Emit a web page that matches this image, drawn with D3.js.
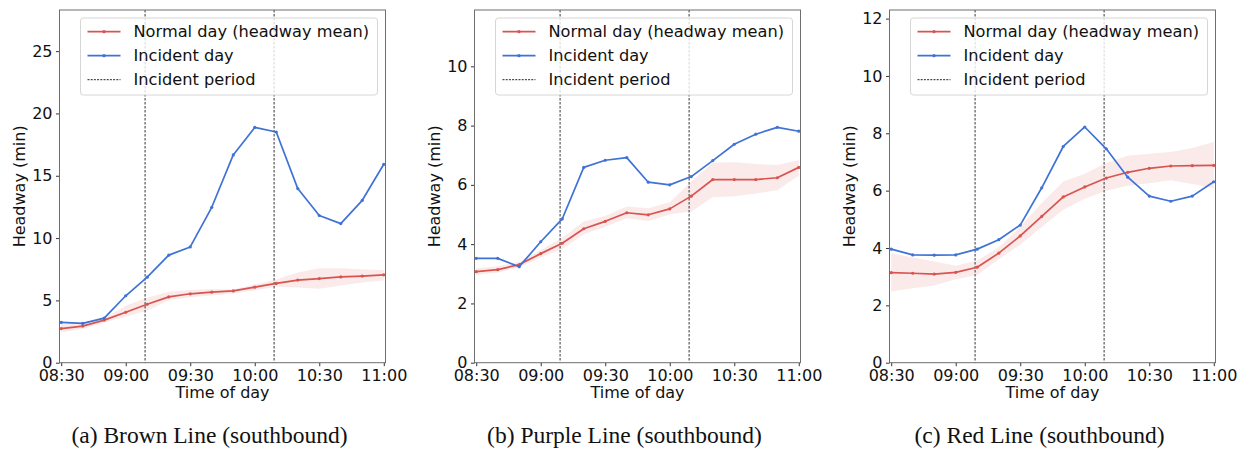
<!DOCTYPE html>
<html>
<head>
<meta charset="utf-8">
<script src="https://cdn.jsdelivr.net/npm/d3@7"></script>
<style>
  body { margin: 0; background: #fff; }
  svg { display: block; font-family: "DejaVu Sans", sans-serif; }
</style>
</head>
<body>
<svg width="1244" height="450"></svg>
<script>
//-- data -- //
const times = ["08:30", "08:40", "08:50", "09:00", "09:10", "09:20", "09:30", "09:40",
               "09:50", "10:00", "10:10", "10:20", "10:30", "10:40", "10:50", "11:00"];
const tickTimes = ["08:30", "09:00", "09:30", "10:00", "10:30", "11:00"];
const incidentPeriod = ["09:09", "10:09"];

const brownNormal   = [2.74, 2.94, 3.42, 4.05, 4.69, 5.28, 5.53, 5.66, 5.76, 6.06, 6.36, 6.63, 6.75, 6.88, 6.95, 7.05];
const brownLower    = [2.44, 2.70, 3.22, 3.69, 4.17, 5.02, 5.26, 5.39, 5.55, 5.82, 6.09, 6.04, 5.93, 6.20, 6.44, 6.60];
const brownUpper    = [3.08, 3.20, 3.56, 4.57, 5.21, 5.69, 5.84, 5.92, 5.88, 6.28, 6.68, 7.24, 7.58, 7.58, 7.50, 7.42];
const brownIncident = [3.23, 3.15, 3.58, 5.37, 6.86, 8.63, 9.29, 12.47, 16.67, 18.88, 18.51, 13.97, 11.81, 11.16, 13.03, 15.92];

const purpleNormal   = [3.07, 3.14, 3.31, 3.68, 4.03, 4.52, 4.77, 5.06, 4.99, 5.19, 5.62, 6.18, 6.18, 6.18, 6.24, 6.59];
const purpleLower    = [2.96, 3.04, 3.22, 3.55, 3.84, 4.33, 4.59, 4.87, 4.78, 5.01, 5.10, 5.58, 5.62, 5.71, 5.82, 6.32];
const purpleUpper    = [3.19, 3.25, 3.41, 3.80, 4.22, 4.76, 4.95, 5.27, 5.21, 5.41, 6.11, 6.75, 6.76, 6.70, 6.67, 6.83];
const purpleIncident = [3.52, 3.52, 3.24, 4.08, 4.85, 6.59, 6.83, 6.92, 6.09, 6.00, 6.28, 6.82, 7.37, 7.71, 7.94, 7.81];

const redNormal   = [3.14, 3.12, 3.09, 3.15, 3.33, 3.82, 4.42, 5.10, 5.78, 6.13, 6.44, 6.64, 6.78, 6.86, 6.87, 6.88];
const redLower    = [2.48, 2.60, 2.69, 2.91, 3.06, 3.61, 4.11, 4.73, 5.33, 5.72, 6.00, 6.17, 6.26, 6.36, 6.23, 6.08];
const redUpper    = [3.82, 3.67, 3.53, 3.38, 3.56, 4.03, 4.73, 5.57, 6.32, 6.59, 6.96, 7.22, 7.29, 7.35, 7.49, 7.70];
const redIncident = [3.96, 3.76, 3.75, 3.76, 3.96, 4.29, 4.80, 6.10, 7.54, 8.22, 7.46, 6.47, 5.81, 5.63, 5.81, 6.31];

const captions = ["(a) Brown Line (southbound)", "(b) Purple Line (southbound)", "(c) Red Line (southbound)"];
const yMaxes = [28.3, 11.9, 12.3];
const yTickSteps = [5, 2, 2];
const legendLabels = ["Normal day (headway mean)", "Incident day", "Incident period"];

const panels = [
    {normal: brownNormal, lower: brownLower, upper: brownUpper, incident: brownIncident},
    {normal: purpleNormal, lower: purpleLower, upper: purpleUpper, incident: purpleIncident},
    {normal: redNormal, lower: redLower, upper: redUpper, incident: redIncident}
].map((p, i) => ({...p, caption: captions[i], yMax: yMaxes[i], step: yTickSteps[i]}));

//-- minutes after 08:30 --//
const toMin = s => { const [h, m] = s.split(":").map(Number); return h * 60 + m - 510; };

const redColor = "#d9534f";
const blueColor = "#3f72d6";

const margin = {top: 10, left: 59.5};
const plotW = 326;
const plotH = 352.7;
const panelGap = 415;

const svg = d3.select("svg");

panels.forEach((p, i) => {
    const g = svg.append("g")
        .attr("transform", `translate(${margin.left + i * panelGap},${margin.top})`);

    const x = d3.scaleLinear().domain([-0.8, 150.8]).range([0, plotW]);
    const y = d3.scaleLinear().domain([0, p.yMax]).range([plotH, 0]);

    //-- band --//
    const rows = times.map((t, k) => ({t: toMin(t), mean: p.normal[k], lo: p.lower[k], hi: p.upper[k], inc: p.incident[k]}));

    g.append("path")
        .datum(rows)
        .attr("fill", redColor)
        .attr("fill-opacity", 0.12)
        .attr("d", d3.area().x(d => x(d.t)).y0(d => y(d.lo)).y1(d => y(d.hi)));

    //-- incident period --//
    g.selectAll(".vline")
        .data(incidentPeriod)
        .join("line")
        .attr("x1", d => x(toMin(d)))
        .attr("x2", d => x(toMin(d)))
        .attr("y1", 0)
        .attr("y2", plotH)
        .attr("stroke", "#333")
        .attr("stroke-opacity", 0.9)
        .attr("stroke-width", 1.1)
        .attr("stroke-dasharray", "2.5,1.5");

    //-- lines --//
    const series = [
        {key: "mean", color: redColor},
        {key: "inc", color: blueColor}
    ];
    series.forEach(s => {
        g.append("path")
            .datum(rows)
            .attr("fill", "none")
            .attr("stroke", s.color)
            .attr("stroke-width", 1.7)
            .attr("stroke-linejoin", "round")
            .attr("d", d3.line().x(d => x(d.t)).y(d => y(d[s.key])));
        g.append("g")
            .selectAll("circle")
            .data(rows)
            .join("circle")
            .attr("cx", d => x(d.t))
            .attr("cy", d => y(d[s.key]))
            .attr("r", 1.6)
            .attr("fill", s.color);
    });

    //-- axes --//
    g.append("g")
        .attr("transform", `translate(0,${plotH})`)
        .call(d3.axisBottom(x).tickValues(tickTimes.map(toMin)).tickFormat((d, k) => tickTimes[k]).tickSize(3.5).tickPadding(3.5))
        .call(g => g.select(".domain").remove())
        .call(g => g.selectAll("text").attr("font-size", 16).attr("font-family", "DejaVu Sans").attr("fill", "#111"))
        .call(g => g.selectAll("line").attr("stroke", "#333"));

    g.append("g")
        .call(d3.axisLeft(y).tickValues(d3.range(0, p.yMax, p.step)).tickFormat(d3.format("d")).tickSize(3.5).tickPadding(3.5))
        .call(g => g.select(".domain").remove())
        .call(g => g.selectAll("text").attr("font-size", 16).attr("font-family", "DejaVu Sans").attr("fill", "#111"))
        .call(g => g.selectAll("line").attr("stroke", "#333"));

    g.append("rect")
        .attr("width", plotW)
        .attr("height", plotH)
        .attr("fill", "none")
        .attr("stroke", "#6e6e6e")
        .attr("stroke-width", 1);

    //-- legend --//
    const leg = g.append("g").attr("transform", "translate(21,8)");
    leg.append("rect")
        .attr("width", 297)
        .attr("height", 77)
        .attr("rx", 3)
        .attr("fill", "#fff")
        .attr("fill-opacity", 0.8)
        .attr("stroke", "#d6d6d6");
    const legendStyles = [
        {color: redColor, dash: null, marker: true},
        {color: blueColor, dash: null, marker: true},
        {color: "#222", dash: "2,1.2", marker: false}
    ];
    legendLabels.forEach((label, k) => {
        const ly = 13.7 + k * 24;
        const st = legendStyles[k];
        leg.append("line")
            .attr("x1", 7).attr("x2", 40)
            .attr("y1", ly).attr("y2", ly)
            .attr("stroke", st.color)
            .attr("stroke-width", st.marker ? 1.7 : 1)
            .attr("stroke-dasharray", st.dash);
        if (st.marker) {
            leg.append("circle").attr("cx", 23.5).attr("cy", ly).attr("r", 1.6).attr("fill", st.color);
        }
        leg.append("text")
            .attr("x", 53)
            .attr("y", ly)
            .attr("dy", "0.35em")
            .attr("font-size", 16.2)
            .attr("fill", "#111")
            .text(label);
    });

    //-- labels --//
    g.append("text")
        .attr("x", plotW / 2)
        .attr("y", 387.7)
        .attr("text-anchor", "middle")
        .attr("font-size", 16)
        .attr("fill", "#111")
        .text("Time of day");

    g.append("text")
        .attr("transform", `translate(${25 - margin.left},${plotH / 2}) rotate(-90)`)
        .attr("text-anchor", "middle")
        .attr("font-size", 16)
        .attr("fill", "#111")
        .text("Headway (min)");

    g.append("text")
        .attr("x", 150)
        .attr("y", 433)
        .attr("text-anchor", "middle")
        .attr("font-family", "Liberation Serif, Times New Roman, serif")
        .attr("font-size", 23.5)
        .attr("fill", "#111")
        .text(p.caption);
});
</script>
</body>
</html>
